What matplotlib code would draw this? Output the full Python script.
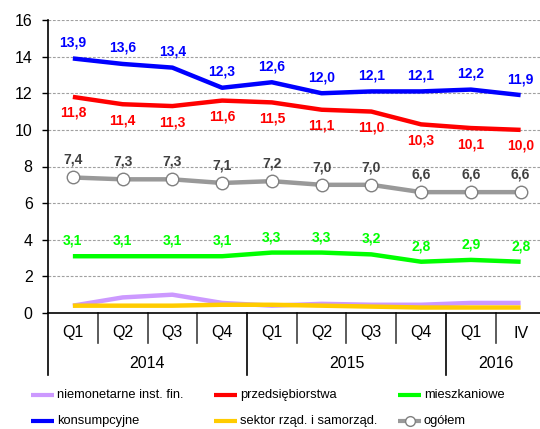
import matplotlib
matplotlib.use("Agg")
import matplotlib.pyplot as plt
from matplotlib.lines import Line2D

plt.rcParams['font.family'] = ['Liberation Sans', 'DejaVu Sans']

quarters = ["Q1", "Q2", "Q3", "Q4", "Q1", "Q2", "Q3", "Q4", "Q1", "IV"]
years = ["2014", "2015", "2016"]
year_spans = [(0, 3), (4, 7), (8, 9)]

niemonetarne = [0.4, 0.85, 1.0, 0.55, 0.4, 0.5, 0.45, 0.45, 0.55, 0.55]
przedsiebiorstwa = [11.8, 11.4, 11.3, 11.6, 11.5, 11.1, 11.0, 10.3, 10.1, 10.0]
mieszkaniowe = [3.1, 3.1, 3.1, 3.1, 3.3, 3.3, 3.2, 2.8, 2.9, 2.8]
konsumpcyjne = [13.9, 13.6, 13.4, 12.3, 12.6, 12.0, 12.1, 12.1, 12.2, 11.9]
sektor_rzad = [0.4, 0.4, 0.4, 0.45, 0.45, 0.4, 0.35, 0.3, 0.3, 0.3]
ogolem = [7.4, 7.3, 7.3, 7.1, 7.2, 7.0, 7.0, 6.6, 6.6, 6.6]

W, H = 540, 429
fig = plt.figure(figsize=(W / 100, H / 100), dpi=100)
ax_left, ax_top, ax_bottom = 48, 20, 313
band = 49.75
ax = fig.add_axes([ax_left / W, (H - ax_bottom) / H, band * 10 / W, (ax_bottom - ax_top) / H])
ax_h = ax_bottom - ax_top

x = list(range(len(quarters)))

c_purple = "#CC99FF"
c_red = "#FF0000"
c_green = "#00FF00"
c_blue = "#0000FF"
c_yellow = "#FFCC00"
c_gray = "#999999"

lw = 3.2
ax.plot(x, niemonetarne, color=c_purple, lw=lw, solid_capstyle='butt', zorder=3)
ax.plot(x, sektor_rzad, color=c_yellow, lw=lw, solid_capstyle='butt', zorder=4)
ax.plot(x, mieszkaniowe, color=c_green, lw=lw, solid_capstyle='butt', zorder=3)
ax.plot(x, przedsiebiorstwa, color=c_red, lw=lw, solid_capstyle='butt', zorder=3)
ax.plot(x, konsumpcyjne, color=c_blue, lw=lw, solid_capstyle='butt', zorder=3)
ax.plot(x, ogolem, color=c_gray, lw=lw, marker='o', markersize=9,
        markerfacecolor='white', markeredgecolor='#808080', markeredgewidth=1.0,
        solid_capstyle='butt', zorder=5)

def fmt(v):
    return f"{v:.1f}".replace(".", ",")

def label_series(vals, color, dy):
    for xi, v in zip(x, vals):
        ax.annotate(fmt(v), (xi, v), xytext=(0, dy), textcoords='offset pixels',
                    ha='center', va='center', fontsize=10, fontweight='bold',
                    color=color, zorder=6)

label_series(konsumpcyjne, c_blue, 16)
label_series(przedsiebiorstwa, c_red, -16)
label_series(ogolem, "#404040", 17.5)
label_series(mieszkaniowe, c_green, 15.5)

ax.set_xlim(-0.5, 9.5)
ax.set_ylim(0, 16)
ax.set_yticks(range(0, 17, 2))
ax.tick_params(axis='y', length=4.5, width=1, pad=6.5, labelsize=11.5, direction='out')
ax.set_xticks([])
for y in range(2, 17, 2):
    ax.axhline(y, color='#A0A0A0', lw=0.8, ls=(0, (2.5, 1.5)), zorder=1)

for s in ['top', 'right']:
    ax.spines[s].set_visible(False)
ax.spines['left'].set_linewidth(1.2)
ax.spines['bottom'].set_linewidth(1.2)

# multi-level category axis
tr = ax.get_xaxis_transform()
short = -30 / ax_h
long_ = -62 / ax_h
for i, q in enumerate(quarters):
    ax.text(i, -20 / ax_h, q, transform=tr, ha='center', va='center', fontsize=11.5)
year_bounds = [s[0] - 0.5 for s in year_spans] + [year_spans[-1][1] + 0.5]
for b in range(1, len(quarters)):
    bx = b - 0.5
    if bx in year_bounds:
        continue
    ax.add_line(Line2D([bx, bx], [0, short], transform=tr, color='#404040', lw=1.2, clip_on=False))
for bx in year_bounds:
    ax.add_line(Line2D([bx, bx], [0, long_], transform=tr, color='black', lw=1.2, clip_on=False))
for yr, (a, b) in zip(years, year_spans):
    ax.text((a + b) / 2, -50 / ax_h, yr, transform=tr, ha='center', va='center', fontsize=11.5)

# legend
legend_items = [
    ("niemonetarne inst. fin.", c_purple, False, 31, 395),
    ("przedsiębiorstwa", c_red, False, 214, 395),
    ("mieszkaniowe", c_green, False, 398, 395),
    ("konsumpcyjne", c_blue, False, 31, 421),
    ("sektor rząd. i samorząd.", c_yellow, False, 214, 421),
    ("ogółem", c_gray, True, 398, 421),
]
for name, col, mk, lx, ly in legend_items:
    yf = (H - ly) / H
    fig.add_artist(Line2D([lx / W, (lx + 23) / W], [yf, yf], color=col, lw=3, solid_capstyle='butt'))
    if mk:
        fig.add_artist(Line2D([(lx + 11.5) / W], [yf], marker='o', markersize=7,
                              markerfacecolor='white', markeredgecolor='#808080', markeredgewidth=1.0))
    fig.text((lx + 26) / W, yf, name, ha='left', va='center', fontsize=9.3)

fig.savefig("out.png", dpi=100)
